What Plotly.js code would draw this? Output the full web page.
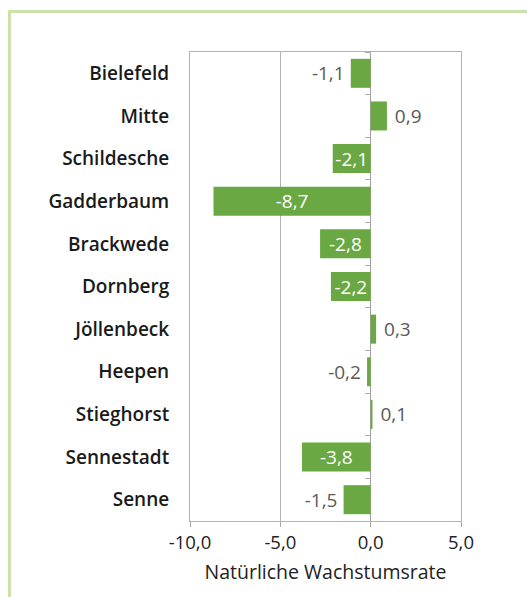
<!DOCTYPE html>
<html>
<head>
<meta charset="utf-8">
<script src="https://cdn.plot.ly/plotly-3.0.1.min.js"></script>
<style>
html,body{margin:0;padding:0;background:#fff;}
#frame{position:absolute;left:8px;top:10px;width:530px;height:600px;border-left:3px solid #cbe2a8;border-top:3px solid #cbe2a8;box-sizing:border-box;}
#chart{position:absolute;left:0;top:0;width:527px;height:597px;}
</style>
</head>
<body>
<div id="frame"></div>
<div id="chart"></div>
<script>
const districts = ["Bielefeld","Mitte","Schildesche","Gadderbaum","Brackwede","Dornberg","Jöllenbeck","Heepen","Stieghorst","Sennestadt","Senne"];
const rates = [-1.1, 0.9, -2.1, -8.7, -2.8, -2.2, 0.3, -0.2, 0.1, -3.8, -1.5];
const xTicks = [-10, -5, 0, 5];
const xTickLabels = ["-10,0", "-5,0", "0,0", "5,0"];
const axisTitle = "Natürliche Wachstumsrate";

const fontFam = "'Open Sans', 'Noto Sans', sans-serif";

// label placement: long bars carry their value inside, short ones outside
const positions = rates.map(v => Math.abs(v) >= 2 ? "inside" : "outside");
const templates = rates.map((v, i) =>
  positions[i] === "inside" ? "%{x:.1f}" : (v >= 0 ? "\u00a0%{x:.1f}" : "%{x:.1f}\u2009"));

const traces = [
  {
    type: "bar",
    orientation: "h",
    y: districts,
    x: rates,
    marker: {color: "#6aa843"},
    texttemplate: templates,
    textposition: positions,
    textangle: 0,
    constraintext: "none",
    insidetextanchor: "middle",
    insidetextfont: {color: "#ffffff", size: 19, family: fontFam},
    outsidetextfont: {color: "#595959", size: 19, family: fontFam},
    cliponaxis: false,
    hoverinfo: "none"
  },
  {
    type: "scatter",
    mode: "markers",
    y: districts,
    x: rates.map(() => 0),
    yaxis: "y2",
    marker: {opacity: 0},
    hoverinfo: "none",
    showlegend: false
  }
];

const layout = {
  width: 527,
  height: 597,
  margin: {l: 190, r: 66, t: 52, b: 76},
  paper_bgcolor: "rgba(0,0,0,0)",
  plot_bgcolor: "#ffffff",
  showlegend: false,
  separators: ",.",
  bargap: 0.32,
  font: {family: fontFam, color: "#222222", size: 18.5},
  xaxis: {
    range: [-10, 5],
    tickvals: xTicks,
    ticktext: xTickLabels,
    ticks: "outside",
    ticklen: 5,
    tickcolor: "#aaaaaa",
    showgrid: true,
    gridcolor: "#b3b3b3",
    zeroline: true,
    zerolinecolor: "#a0a0a0",
    zerolinewidth: 1.5,
    showline: true,
    linecolor: "#b3b3b3",
    mirror: true,
    tickfont: {size: 18.5, color: "#222222"},
    title: {text: axisTitle, font: {size: 19.5, color: "#222222"}, standoff: 12},
    fixedrange: true
  },
  yaxis: {
    type: "category",
    categoryorder: "array",
    categoryarray: districts,
    range: [10.5, -0.5],
    autorange: false,
    ticks: "",
    showline: true,
    linecolor: "#b3b3b3",
    mirror: true,
    ticklabelstandoff: 16,
    tickfont: {size: 19, color: "#1a1a1a", weight: 600},
    fixedrange: true
  },
  yaxis2: {
    type: "category",
    categoryorder: "array",
    categoryarray: districts,
    overlaying: "y",
    matches: "y",
    anchor: "free",
    position: 10 / 15,
    side: "left",
    ticks: "outside",
    tickson: "boundaries",
    ticklen: 6,
    tickcolor: "#aaaaaa",
    showticklabels: false,
    showline: false,
    showgrid: false,
    zeroline: false,
    fixedrange: true
  }
};

Plotly.newPlot("chart", traces, layout, {displayModeBar: false, staticPlot: true});
</script>
</body>
</html>
